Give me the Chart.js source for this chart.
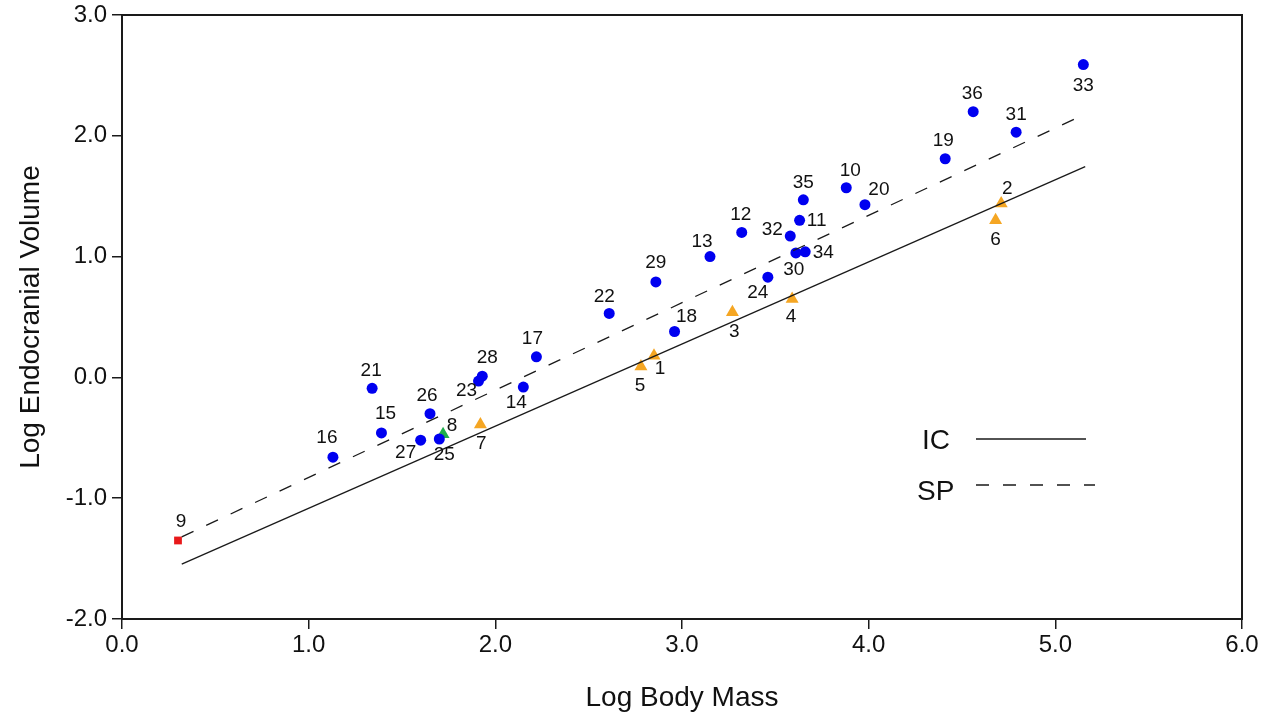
<!DOCTYPE html>
<html>
<head>
<meta charset="utf-8">
<script src="https://cdn.jsdelivr.net/npm/chart.js@4.4.1/dist/chart.umd.min.js"></script>
<style>
    html, body { margin: 0; padding: 0; background: #fff; }
    #wrap { width: 1270px; height: 717px; }
</style>
</head>
<body>
<div id="wrap"><canvas id="brainChart" width="1270" height="717"></canvas></div>
<script>
// blue circles
const circleIds = [16, 21, 15, 26, 27, 25, 23, 28, 14, 17, 22, 29, 18, 13, 12, 32, 30, 34, 24, 11, 35, 10, 20, 19, 36, 31, 33];
const circleMass = [1.13, 1.34, 1.39, 1.65, 1.60, 1.70, 1.91, 1.93, 2.15, 2.22, 2.61, 2.86, 2.96, 3.15, 3.32, 3.58, 3.61, 3.66, 3.46, 3.63, 3.65, 3.88, 3.98, 4.41, 4.56, 4.79, 5.15];
const circleVolume = [-0.66, -0.09, -0.46, -0.30, -0.52, -0.51, -0.03, 0.01, -0.08, 0.17, 0.53, 0.79, 0.38, 1.00, 1.20, 1.17, 1.03, 1.04, 0.83, 1.30, 1.47, 1.57, 1.43, 1.81, 2.20, 2.03, 2.59];

// orange triangles
const triIds = [1, 2, 3, 4, 5, 6, 7];
const triMass = [2.85, 4.71, 3.27, 3.59, 2.78, 4.68, 1.92];
const triVolume = [0.18, 1.44, 0.54, 0.65, 0.09, 1.30, -0.39];

// green triangle
const greenIds = [8];
const greenMass = [1.72];
const greenVolume = [-0.47];

// red square
const squareIds = [9];
const squareMass = [0.30];
const squareVolume = [-1.35];

// regression lines
const lineMass = [0.32, 5.16];
const icLine = [-1.545, 1.745];
const spLine = [-1.32, 2.18];

// label offsets in px from the point
const labelOffsets = {
    1: [6, 13], 2: [6, -15], 3: [2, 20], 4: [-1, 18], 5: [-1, 19], 6: [0, 19], 7: [1, 19],
    8: [9, -8], 9: [3, -19], 10: [4, -17], 11: [17, 0], 12: [-1, -18], 13: [-8, -15],
    14: [-7, 16], 15: [4, -19], 16: [-6, -19], 17: [-4, -18], 18: [12, -15], 19: [-2, -18],
    20: [14, -15], 21: [-1, -18], 22: [-5, -17], 23: [-12, 10], 24: [-10, 16], 25: [5, 16],
    26: [-3, -18], 27: [-15, 13], 28: [5, -18], 29: [0, -19], 30: [-2, 17], 31: [0, -17],
    32: [-18, -6], 33: [0, 21], 34: [18, 1], 35: [0, -17], 36: [-1, -18]
};

const FONT = '"Liberation Sans", Arial, Helvetica, sans-serif';
const INK = '#1a1a1a';

function toPoints(xs, ys, ids) {
    return xs.map((x, i) => ({ x: x, y: ys[i], id: ids ? ids[i] : null }));
}

// Frame around the plot area
const framePlugin = {
    id: 'frame',
    afterDraw(chart) {
        const a = chart.chartArea;
        const ctx = chart.ctx;
        ctx.save();
        ctx.strokeStyle = INK;
        ctx.lineWidth = 2;
        ctx.strokeRect(a.left, a.top, a.right - a.left, a.bottom - a.top);
        ctx.restore();
    }
};

// Numbers next to every specimen
const labelPlugin = {
    id: 'pointLabels',
    afterDatasetsDraw(chart) {
        const ctx = chart.ctx;
        ctx.save();
        ctx.font = '19px ' + FONT;
        ctx.fillStyle = '#111';
        ctx.textAlign = 'center';
        ctx.textBaseline = 'middle';
        chart.data.datasets.forEach((ds, di) => {
            if (ds.type === 'line') return;
            const meta = chart.getDatasetMeta(di);
            meta.data.forEach((el, i) => {
                const id = ds.data[i].id;
                const off = labelOffsets[id] || [0, -18];
                ctx.fillText(String(id), el.x + off[0], el.y + off[1]);
            });
        });
        ctx.restore();
    }
};

// IC / SP key inside the plot
const keyPlugin = {
    id: 'lineKey',
    afterDraw(chart) {
        const ctx = chart.ctx;
        ctx.save();
        ctx.font = '28px ' + FONT;
        ctx.fillStyle = '#111';
        ctx.textAlign = 'left';
        ctx.textBaseline = 'alphabetic';
        ctx.fillText('IC', 922, 449);
        ctx.fillText('SP', 917, 500);
        ctx.strokeStyle = INK;
        ctx.lineWidth = 1.3;
        ctx.beginPath();
        ctx.moveTo(976, 439);
        ctx.lineTo(1086, 439);
        ctx.stroke();
        ctx.setLineDash([13, 14]);
        ctx.beginPath();
        ctx.moveTo(976, 485);
        ctx.lineTo(1095, 485);
        ctx.stroke();
        ctx.restore();
    }
};

new Chart(document.getElementById('brainChart'), {
    type: 'scatter',
    data: {
        datasets: [
            {
                type: 'line',
                label: 'IC',
                data: toPoints(lineMass, icLine),
                borderColor: INK,
                borderWidth: 1.3,
                pointRadius: 0,
                fill: false
            },
            {
                type: 'line',
                label: 'SP',
                data: toPoints(lineMass, spLine),
                borderColor: INK,
                borderWidth: 1.3,
                borderDash: [13, 14],
                pointRadius: 0,
                fill: false
            },
            {
                label: 'circles',
                data: toPoints(circleMass, circleVolume, circleIds),
                pointStyle: 'circle',
                pointRadius: 5.5,
                backgroundColor: '#0000f0',
                borderColor: '#0000f0',
                borderWidth: 0
            },
            {
                label: 'triangles',
                data: toPoints(triMass, triVolume, triIds),
                pointStyle: 'triangle',
                pointRadius: 7.5,
                backgroundColor: '#f5a623',
                borderColor: '#f5a623',
                borderWidth: 0
            },
            {
                label: 'green',
                data: toPoints(greenMass, greenVolume, greenIds),
                pointStyle: 'triangle',
                pointRadius: 7.5,
                backgroundColor: '#1fae4b',
                borderColor: '#1fae4b',
                borderWidth: 0
            },
            {
                label: 'square',
                data: toPoints(squareMass, squareVolume, squareIds),
                pointStyle: 'rect',
                pointRadius: 5.5,
                backgroundColor: '#e8191a',
                borderColor: '#e8191a',
                borderWidth: 0
            }
        ]
    },
    options: {
        responsive: false,
        animation: false,
        devicePixelRatio: 1,
        layout: { padding: { left: 0, top: 15, right: 28, bottom: 0 } },
        plugins: {
            legend: { display: false },
            tooltip: { enabled: false }
        },
        scales: {
            x: {
                type: 'linear',
                min: 0,
                max: 6,
                afterFit(scale) { scale.height = 98; },
                border: { display: false },
                grid: { drawOnChartArea: false, drawTicks: true, tickLength: 10, color: INK, lineWidth: 1.5 },
                ticks: {
                    stepSize: 1,
                    padding: 2,
                    color: '#111',
                    font: { family: FONT, size: 24 },
                    callback: v => v.toFixed(1)
                },
                title: {
                    display: true,
                    text: 'Log Body Mass',
                    color: '#111',
                    font: { family: FONT, size: 28 },
                    padding: { top: 0, bottom: 2 }
                }
            },
            y: {
                type: 'linear',
                min: -2,
                max: 3,
                afterFit(scale) {
                    scale.width = 122;
                    scale.paddingTop = 0;
                    scale.paddingBottom = 0;
                },
                border: { display: false },
                grid: { drawOnChartArea: false, drawTicks: true, tickLength: 10, color: INK, lineWidth: 1.5 },
                ticks: {
                    stepSize: 1,
                    padding: 5,
                    color: '#111',
                    font: { family: FONT, size: 24 },
                    callback: v => v.toFixed(1)
                },
                title: {
                    display: true,
                    text: 'Log Endocranial Volume',
                    color: '#111',
                    font: { family: FONT, size: 28 },
                    padding: { top: 14, bottom: 0 }
                }
            }
        }
    },
    plugins: [framePlugin, labelPlugin, keyPlugin]
});
</script>
</body>
</html>
